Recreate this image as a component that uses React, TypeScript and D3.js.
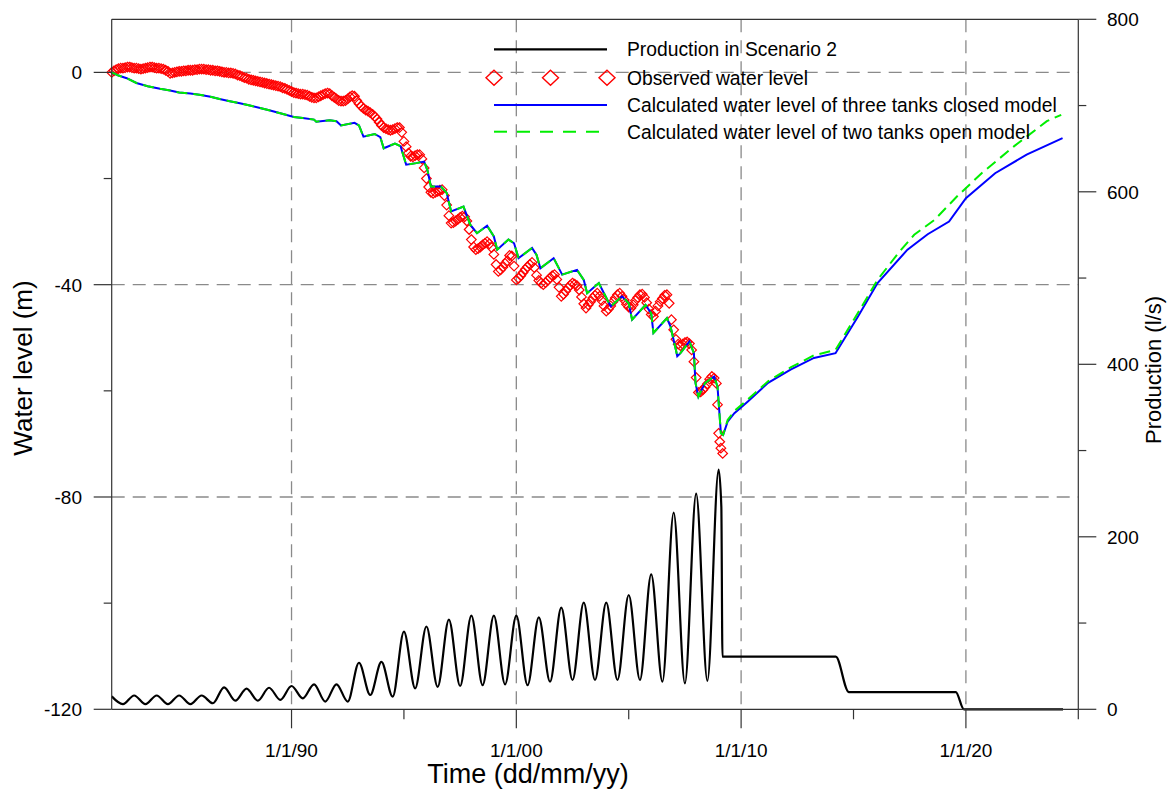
import React from 'react';
import * as d3 from 'd3';

// ---------- data (decimal year, value) ----------
const production: [number, number][] = [
  [1982.0, 15], [1982.5, 6], [1983.0, 16], [1983.5, 6], [1984.0, 16], [1984.5, 6],
  [1985.0, 16], [1985.5, 6], [1986.0, 16], [1986.5, 7], [1987.0, 25.5], [1987.5, 10],
  [1988.0, 24], [1988.5, 10], [1989.0, 25], [1989.5, 11], [1990.0, 27], [1990.5, 12.7],
  [1991.0, 29], [1991.5, 9], [1992.0, 29], [1992.5, 9], [1993.0, 54], [1993.5, 16.6],
  [1994.0, 55], [1994.5, 14.6], [1995.0, 90], [1995.5, 24.3], [1996.0, 96], [1996.5, 26],
  [1997.0, 104], [1997.5, 27], [1998.0, 108.5], [1998.5, 28], [1999.0, 108.5], [1999.5, 29],
  [2000.0, 108.5], [2000.5, 28], [2001.0, 106.6], [2001.5, 32], [2002.0, 118], [2002.5, 34],
  [2003.0, 123.6], [2003.5, 34], [2004.0, 123.6], [2004.5, 34], [2005.0, 132.5], [2005.5, 34],
  [2006.0, 156.5], [2006.5, 32], [2007.0, 228], [2007.5, 30], [2008.0, 250], [2008.5, 33],
  [2009.0, 278], [2009.12, 235], [2009.17, 61], [2014.21, 61], [2014.79, 20], [2019.55, 20],
  [2019.91, 0], [2024.32, 0],
];

const observedLevel: [number, number][] = [
  [1982.0, 0.0], [1982.1, 0.3], [1982.2, 0.5], [1982.3, 0.7], [1982.4, 0.8], [1982.5, 0.8],
  [1982.6, 0.9], [1982.7, 1.0], [1982.8, 1.0], [1982.9, 0.9], [1983.0, 0.8], [1983.1, 0.8],
  [1983.2, 0.7], [1983.3, 0.6], [1983.4, 0.7], [1983.5, 0.8], [1983.6, 0.9], [1983.7, 1.0],
  [1983.8, 1.0], [1983.9, 0.9], [1984.0, 0.8], [1984.1, 0.8], [1984.2, 0.7], [1984.3, 0.6],
  [1984.4, 0.4], [1984.5, 0.2], [1984.6, -0.2], [1984.7, -0.1], [1984.8, 0.0], [1984.9, 0.1],
  [1985.0, 0.2], [1985.1, 0.2], [1985.2, 0.3], [1985.3, 0.3], [1985.4, 0.4], [1985.5, 0.4],
  [1985.6, 0.4], [1985.7, 0.5], [1985.8, 0.5], [1985.9, 0.6], [1986.0, 0.6], [1986.1, 0.6],
  [1986.2, 0.5], [1986.3, 0.5], [1986.4, 0.4], [1986.5, 0.4], [1986.6, 0.3], [1986.7, 0.3],
  [1986.8, 0.2], [1986.9, 0.1], [1987.0, 0.0], [1987.1, 0.0], [1987.2, -0.1], [1987.3, -0.1],
  [1987.4, -0.2], [1987.5, -0.3], [1987.6, -0.5], [1987.7, -0.6], [1987.8, -0.8], [1987.9, -1.0],
  [1988.0, -1.1], [1988.1, -1.3], [1988.2, -1.4], [1988.3, -1.5], [1988.4, -1.6], [1988.5, -1.7],
  [1988.6, -1.8], [1988.7, -1.9], [1988.8, -2.0], [1988.9, -2.1], [1989.0, -2.2], [1989.1, -2.3],
  [1989.2, -2.4], [1989.3, -2.5], [1989.4, -2.6], [1989.5, -2.7], [1989.6, -2.9], [1989.7, -3.0],
  [1989.8, -3.2], [1989.9, -3.4], [1990.0, -3.6], [1990.1, -3.8], [1990.2, -3.9], [1990.3, -4.0],
  [1990.4, -4.1], [1990.5, -4.1], [1990.6, -4.2], [1990.7, -4.3], [1990.8, -4.5], [1990.9, -4.7],
  [1991.0, -4.8], [1991.1, -4.8], [1991.2, -4.6], [1991.3, -4.4], [1991.4, -4.2], [1991.5, -4.0],
  [1991.6, -3.9], [1991.7, -4.0], [1991.8, -4.4], [1991.9, -4.7], [1992.0, -5.0], [1992.1, -5.3],
  [1992.2, -5.4], [1992.3, -5.4], [1992.4, -5.3], [1992.5, -5.0], [1992.6, -4.6], [1992.7, -4.4],
  [1992.8, -4.5], [1992.9, -5.3], [1993.0, -5.9], [1993.1, -6.4], [1993.2, -6.8], [1993.3, -7.1],
  [1993.4, -7.3], [1993.5, -7.6], [1993.6, -7.9], [1993.7, -8.3], [1993.8, -8.8], [1993.9, -9.4],
  [1994.0, -10.0], [1994.1, -10.4], [1994.2, -10.6], [1994.3, -10.8], [1994.4, -10.9], [1994.5, -10.8],
  [1994.6, -10.6], [1994.7, -10.4], [1994.8, -10.4], [1994.9, -11.3], [1995.0, -13.0], [1995.1, -14.0],
  [1995.2, -15.2], [1995.3, -15.8], [1995.4, -15.9], [1995.5, -15.7], [1995.6, -15.5], [1995.7, -15.5],
  [1995.8, -16.3], [1995.9, -18.0], [1996.0, -20.0], [1996.1, -21.6], [1996.2, -22.6], [1996.3, -22.8],
  [1996.4, -22.6], [1996.5, -22.4], [1996.6, -22.2], [1996.7, -22.1], [1996.8, -23.2], [1996.9, -25.0],
  [1997.0, -27.0], [1997.1, -28.4], [1997.2, -28.3], [1997.3, -28.0], [1997.4, -27.7], [1997.5, -27.3],
  [1997.6, -27.1], [1997.7, -27.2], [1997.8, -28.0], [1997.9, -29.6], [1998.0, -31.5], [1998.1, -32.9],
  [1998.2, -33.4], [1998.3, -33.2], [1998.4, -32.9], [1998.5, -32.5], [1998.6, -32.2], [1998.7, -31.9],
  [1998.8, -32.3], [1998.9, -33.0], [1999.0, -34.3], [1999.1, -36.2], [1999.2, -37.5], [1999.3, -37.2],
  [1999.4, -36.7], [1999.5, -36.0], [1999.6, -35.5], [1999.7, -34.5], [1999.8, -34.6], [1999.9, -36.5],
  [2000.0, -39.1], [2000.1, -38.8], [2000.2, -38.3], [2000.3, -37.7], [2000.4, -37.1], [2000.5, -36.6],
  [2000.6, -36.2], [2000.7, -35.8], [2000.8, -36.8], [2000.9, -38.2], [2001.0, -39.2], [2001.1, -39.7],
  [2001.2, -40.0], [2001.3, -39.6], [2001.4, -39.2], [2001.5, -38.7], [2001.6, -38.3], [2001.7, -38.1],
  [2001.8, -39.0], [2001.9, -40.5], [2002.0, -42.2], [2002.1, -41.8], [2002.2, -41.2], [2002.3, -40.6],
  [2002.4, -40.1], [2002.5, -39.7], [2002.6, -39.9], [2002.7, -40.2], [2002.8, -41.0], [2002.9, -42.3],
  [2003.0, -43.6], [2003.1, -44.4], [2003.2, -43.8], [2003.3, -43.2], [2003.4, -42.5], [2003.5, -42.0],
  [2003.6, -41.6], [2003.7, -42.2], [2003.8, -43.0], [2003.9, -44.0], [2004.0, -45.0], [2004.1, -44.6],
  [2004.2, -44.0], [2004.3, -43.2], [2004.4, -42.5], [2004.5, -41.9], [2004.6, -41.6], [2004.7, -42.2],
  [2004.8, -42.9], [2004.9, -43.7], [2005.0, -44.2], [2005.1, -44.4], [2005.2, -43.8], [2005.3, -43.0],
  [2005.4, -42.4], [2005.5, -41.9], [2005.6, -41.8], [2005.7, -42.4], [2005.8, -43.4], [2005.9, -44.6],
  [2006.0, -45.6], [2006.1, -46.0], [2006.2, -45.0], [2006.3, -44.0], [2006.4, -43.2], [2006.5, -42.6],
  [2006.6, -42.0], [2006.7, -41.9], [2006.8, -43.5], [2006.9, -46.6], [2007.0, -48.5], [2007.1, -50.3],
  [2007.2, -51.2], [2007.3, -51.5], [2007.4, -51.2], [2007.5, -50.9], [2007.6, -50.8], [2007.7, -51.1],
  [2007.8, -52.3], [2007.9, -54.5], [2008.0, -57.5], [2008.1, -60.3], [2008.2, -60.2], [2008.3, -59.8],
  [2008.4, -59.3], [2008.5, -58.7], [2008.6, -57.8], [2008.7, -57.3], [2008.8, -57.6], [2008.9, -58.6],
  [2008.95, -62.6], [2009.0, -68.0], [2009.05, -69.6], [2009.1, -70.8], [2009.18, -71.8],
];

const closedModelLevel: [number, number][] = [
  [1982.0, 0.0], [1982.3, -0.6], [1982.67, -1.1], [1983.1, -2.0], [1983.6, -2.6], [1984.15, -3.1],
  [1984.6, -3.4], [1985.0, -3.8], [1985.5, -4.0], [1985.9, -4.2], [1986.4, -4.6], [1986.8, -5.0],
  [1987.2, -5.4], [1987.7, -5.8], [1988.1, -6.2], [1988.6, -6.7], [1989.05, -7.2], [1989.5, -7.7],
  [1990.1, -8.4], [1990.5, -8.6], [1991.0, -8.9], [1991.1, -9.3], [1991.7, -9.0], [1992.0, -9.2],
  [1992.2, -10.0], [1992.8, -9.5], [1993.0, -10.0], [1993.2, -12.1], [1993.7, -11.6], [1993.95, -12.2],
  [1994.1, -14.3], [1994.6, -13.4], [1994.85, -13.9], [1995.1, -17.4], [1995.55, -17.1], [1995.9, -16.8],
  [1996.05, -18.5], [1996.2, -21.5], [1996.65, -21.5], [1996.9, -22.7], [1997.1, -26.2], [1997.65, -25.3],
  [1997.95, -28.7], [1998.25, -30.3], [1998.7, -28.9], [1999.0, -30.9], [1999.15, -33.4], [1999.65, -31.5],
  [1999.9, -32.2], [2000.1, -35.0], [2000.7, -33.1], [2000.9, -34.4], [2001.07, -36.9], [2001.66, -35.0],
  [2002.04, -38.1], [2002.7, -37.2], [2003.0, -39.1], [2003.15, -41.6], [2003.67, -39.7], [2004.04, -42.8],
  [2004.2, -44.1], [2004.7, -42.2], [2005.0, -43.5], [2005.15, -46.6], [2005.75, -43.8], [2006.0, -45.4],
  [2006.1, -49.1], [2006.7, -46.3], [2006.86, -47.9], [2007.1, -52.3], [2007.16, -53.5], [2007.3, -52.9],
  [2007.7, -50.7], [2007.9, -52.9], [2007.97, -58.5], [2008.1, -61.1], [2008.4, -58.5], [2008.8, -57.3],
  [2008.95, -59.2], [2009.1, -68.0], [2009.2, -68.3], [2009.4, -65.8], [2009.7, -64.2], [2010.3, -62.0],
  [2011.2, -58.5], [2012.2, -56.0], [2013.24, -53.8], [2014.2, -52.9], [2015.2, -46.0], [2016.07, -39.7],
  [2017.4, -33.4], [2018.3, -30.5], [2019.25, -28.1], [2020.0, -23.7], [2021.3, -19.0], [2022.7, -15.5],
  [2024.3, -12.4],
];

const openModelRecovery: [number, number][] = [
  [2009.4, -65.5], [2009.7, -63.8], [2010.3, -61.6], [2011.2, -58.2], [2012.2, -55.6], [2013.24, -53.3],
  [2014.2, -52.3], [2015.2, -45.3], [2016.07, -39.1], [2017.0, -34.0], [2017.7, -30.6], [2018.6, -27.8],
  [2019.6, -23.4], [2020.7, -19.0], [2022.15, -13.9], [2023.6, -9.2], [2024.24, -8.0],
];

const leftMajorTicks = [0, -40, -80, -120];
const leftMinorTicks = [-20, -60, -100];
const rightMajorTicks = [0, 200, 400, 600, 800];
const rightMinorTicks = [100, 300, 500, 700];
const xMajorTicks = [1990, 2000, 2010, 2020];
const xMajorLabels = ['1/1/90', '1/1/00', '1/1/10', '1/1/20'];
const xMinorTicks = [1995, 2005, 2015, 2025];
const legendLabels = [
  'Production in Scenario 2',
  'Observed water level',
  'Calculated water level of three tanks closed model',
  'Calculated water level of two tanks open model',
];

const FONT = '"Liberation Sans", Arial, sans-serif';

export default function App() {
  const X0 = 111.7, X1 = 1078.3, YT = 19.3, YB = 709.3;
  const x = d3.scaleLinear().domain([1982, 2025]).range([X0, X1]);
  const yL = d3.scaleLinear().domain([-120, 10]).range([YB, YT]);
  const yR = d3.scaleLinear().domain([0, 800]).range([YB, YT]);

  const prodLine = d3.line<[number, number]>().x(d => x(d[0])).y(d => yR(d[1])).curve(d3.curveMonotoneX);
  const levelLine = d3.line<[number, number]>().x(d => x(d[0])).y(d => yL(d[1]));

  const preRecovery = closedModelLevel.filter(d => d[0] <= 2009.2);
  const openModelLevel = [...preRecovery, ...openModelRecovery];

  const grid = '#8a8a8a';
  const axis = '#333';
  const diamond = (s: number) => `M0,${-s}L${s},0L0,${s}L${-s},0Z`;

  const legendRows = [49.3, 77.7, 105, 131.7];
  const lx0 = 494, lx1 = 607, ltx = 627;

  return (
    <svg width={1175} height={794} style={{ position: 'absolute', left: 0, top: 0, background: '#fff' }}>
      <rect x={0} y={0} width={1175} height={794} fill="#fff" />
      {/* grid */}
      <g stroke={grid} strokeWidth={1.3} strokeDasharray="13,8">
        {[0, -40, -80].map(v => (
          <line key={'h' + v} x1={X0} x2={X1} y1={yL(v)} y2={yL(v)} />
        ))}
        {xMajorTicks.map(v => (
          <line key={'v' + v} x1={x(v)} x2={x(v)} y1={YT} y2={YB} />
        ))}
      </g>

      {/* production */}
      <path d={prodLine(production) || ''} fill="none" stroke="#000" strokeWidth={2.2} />

      {/* observed */}
      <g stroke="#ff0000" strokeWidth={1.2} fill="none">
        {observedLevel.map((d, i) => (
          <path key={i} d={diamond(4.8)} transform={`translate(${x(d[0])},${yL(d[1])})`} />
        ))}
      </g>

      {/* models */}
      <path d={levelLine(closedModelLevel) || ''} fill="none" stroke="#0000ff" strokeWidth={2} />
      <path d={levelLine(openModelLevel) || ''} fill="none" stroke="#00ee00" strokeWidth={2} strokeDasharray="11,6" />

      {/* frame */}
      <g stroke={axis} strokeWidth={1.2} fill="none">
        <line x1={X0} x2={X1} y1={YT} y2={YT} />
        <line x1={X0} x2={X1} y1={YB} y2={YB} />
        <line x1={X0} x2={X0} y1={YT} y2={YB} />
        <line x1={X1} x2={X1} y1={YT} y2={YB} />
        {leftMajorTicks.map(v => <line key={'lm' + v} x1={X0 - 18} x2={X0} y1={yL(v)} y2={yL(v)} />)}
        {leftMinorTicks.map(v => <line key={'ln' + v} x1={X0 - 8} x2={X0} y1={yL(v)} y2={yL(v)} />)}
        {rightMajorTicks.map(v => <line key={'rm' + v} x1={X1} x2={X1 + 18} y1={yR(v)} y2={yR(v)} />)}
        {rightMinorTicks.map(v => <line key={'rn' + v} x1={X1} x2={X1 + 8} y1={yR(v)} y2={yR(v)} />)}
        {xMajorTicks.map(v => <line key={'xm' + v} x1={x(v)} x2={x(v)} y1={YB} y2={YB + 19} />)}
        {xMinorTicks.map(v => <line key={'xn' + v} x1={x(v)} x2={x(v)} y1={YB} y2={YB + 10} />)}
      </g>

      {/* tick labels */}
      <g fontFamily={FONT} fontSize={19} fill="#000">
        {leftMajorTicks.map(v => (
          <text key={'lt' + v} x={82} y={yL(v) + 7} textAnchor="end">{v}</text>
        ))}
        {rightMajorTicks.map(v => (
          <text key={'rt' + v} x={1107} y={yR(v) + 7} textAnchor="start">{v}</text>
        ))}
        {xMajorTicks.map((v, i) => (
          <text key={'xt' + v} x={x(v)} y={757} textAnchor="middle">{xMajorLabels[i]}</text>
        ))}
      </g>

      {/* axis titles */}
      <g fontFamily={FONT} fill="#000">
        <text x={528} y={783} textAnchor="middle" fontSize={27}>Time (dd/mm/yy)</text>
        <text transform="translate(32,368) rotate(-90)" textAnchor="middle" fontSize={26}>Water level (m)</text>
        <text transform="translate(1161,370) rotate(-90)" textAnchor="middle" fontSize={22}>Production (l/s)</text>
      </g>

      {/* legend */}
      <g fontFamily={FONT} fontSize={19.3} fill="#000">
        <line x1={lx0} x2={lx1} y1={legendRows[0]} y2={legendRows[0]} stroke="#000" strokeWidth={2.2} />
        {[lx0, (lx0 + lx1) / 2, lx1].map((px, i) => (
          <path key={'ld' + i} d={`M0,-7.5L8,0L0,7.5L-8,0Z`} transform={`translate(${px},${legendRows[1]})`} fill="none" stroke="#ff0000" strokeWidth={1.4} />
        ))}
        <line x1={lx0} x2={lx1} y1={legendRows[2]} y2={legendRows[2]} stroke="#0000ff" strokeWidth={2} />
        <line x1={lx0} x2={lx1} y1={legendRows[3]} y2={legendRows[3]} stroke="#00ee00" strokeWidth={2} strokeDasharray="13,10" />
        {legendLabels.map((t, i) => (
          <text key={'lg' + i} x={ltx} y={legendRows[i] + 7}>{t}</text>
        ))}
      </g>
    </svg>
  );
}
